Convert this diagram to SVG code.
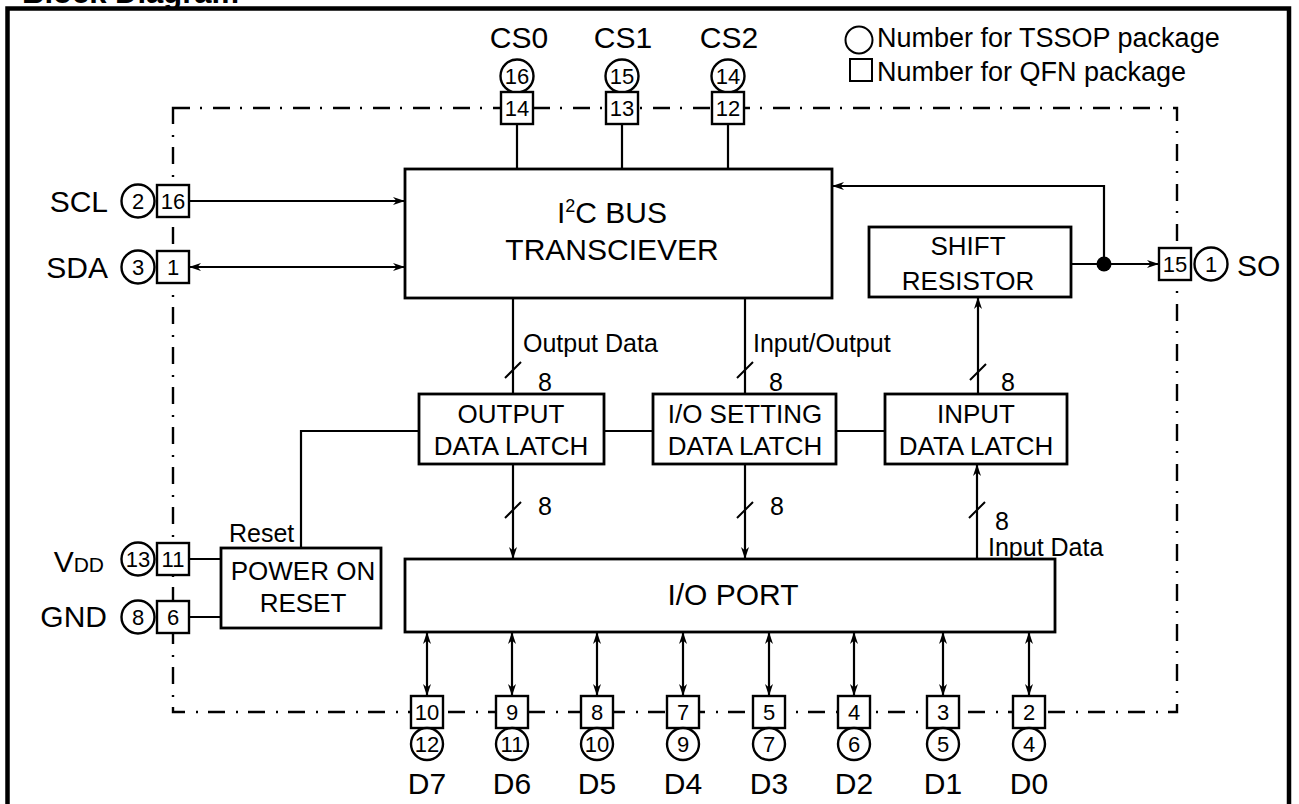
<svg xmlns="http://www.w3.org/2000/svg" width="1299" height="804" viewBox="0 0 1299 804">
<defs>
<marker id="ah" viewBox="0 0 12 8" refX="12" refY="4" markerWidth="12" markerHeight="8" markerUnits="userSpaceOnUse" orient="auto-start-reverse">
<path d="M0,0 L12,4 L0,8 L3.5,4 z" fill="#000"/>
</marker>
</defs>
<style>
text{font-family:"Liberation Sans",Arial,sans-serif;fill:#000}
.blk{fill:#fff;stroke:#000;stroke-width:2.8}
.pin{fill:#fff;stroke:#000;stroke-width:2.4}
.ln{fill:none;stroke:#000;stroke-width:2.2}
.a1{fill:none;stroke:#000;stroke-width:2.2;marker-end:url(#ah)}
.a2{fill:none;stroke:#000;stroke-width:2.2;marker-start:url(#ah);marker-end:url(#ah)}
.sl{fill:none;stroke:#000;stroke-width:2}
.bt{font-size:26px;text-anchor:middle}
.big{font-size:30px;text-anchor:middle}
.lab{font-size:30px}
.num{font-size:22px;text-anchor:middle}
.sm{font-size:25px}
</style>
<rect width="1299" height="804" fill="#fff"/>
<text x="22" y="3" style="font-size:31px;font-weight:bold">Block Diagram</text>
<rect x="7.5" y="8.5" width="1281.5" height="820" fill="none" stroke="#000" stroke-width="4.5"/>
<rect x="173" y="108" width="1004" height="604" fill="none" stroke="#000" stroke-width="2.4" stroke-dasharray="17 10 2 11"/>

<g id="legend">
<circle cx="859" cy="40" r="13.5" fill="none" stroke="#000" stroke-width="2"/>
<text x="877" y="47" style="font-size:27px">Number for TSSOP package</text>
<rect x="850" y="59" width="22" height="22" fill="none" stroke="#000" stroke-width="2"/>
<text x="877" y="81" style="font-size:27px">Number for QFN package</text>
</g>

<g id="connectors">
<path class="ln" d="M517,124V169M622,124V169M728,124V169"/>
<path class="a1" d="M189,201H405"/>
<path class="a2" d="M189,267H405"/>
<path class="a1" d="M1104,264V186H832"/>
<path class="a1" d="M1071,264H1159"/>
<circle cx="1104" cy="264" r="7.5" fill="#000"/>
<path class="ln" d="M513,298V394M745,298V394"/>
<path class="a1" d="M978,394V297"/>
<path class="ln" d="M604,431H653M836,431H885M419,431H301V548"/>
<path class="a1" d="M513,464V559"/>
<path class="a1" d="M745,464V559"/>
<path class="a1" d="M977,559V464"/>
<path class="ln" d="M189,559H221M189,617H221"/>
<path class="sl" d="M505,378L521,362M737,378L753,362M970,380L986,364M505,518L521,502M737,518L753,502M969,518L985,502"/>
<text x="523" y="352" class="sm">Output Data</text>
<text x="753" y="352" class="sm">Input/Output</text>
<text x="988" y="556" class="sm">Input Data</text>
<text x="229" y="542" class="sm">Reset</text>
<text x="538" y="391" class="sm">8</text>
<text x="769" y="391" class="sm">8</text>
<text x="1001" y="391" class="sm">8</text>
<text x="538" y="515" class="sm">8</text>
<text x="770" y="515" class="sm">8</text>
<text x="995" y="530" class="sm">8</text>
<path class="a2" d="M427,632V696"/>
<path class="a2" d="M512,632V696"/>
<path class="a2" d="M597,632V696"/>
<path class="a2" d="M683,632V696"/>
<path class="a2" d="M769,632V696"/>
<path class="a2" d="M854,632V696"/>
<path class="a2" d="M943,632V696"/>
<path class="a2" d="M1029,632V696"/>
</g>

<g id="i2c">
<rect class="blk" x="405" y="169" width="427" height="129"/>
<text x="612" y="223" class="big">I<tspan dy="-11" style="font-size:18px">2</tspan><tspan dy="11">C BUS</tspan></text>
<text x="612" y="260" class="big">TRANSCIEVER</text>
</g>
<g id="shift">
<rect class="blk" x="869" y="227" width="202" height="70"/>
<text x="968" y="255" class="bt">SHIFT</text>
<text x="968" y="290" class="bt">RESISTOR</text>
</g>
<g id="outlatch">
<rect class="blk" x="419" y="394" width="185" height="70"/>
<text x="511" y="423" class="bt">OUTPUT</text>
<text x="511" y="455" class="bt">DATA LATCH</text>
</g>
<g id="iolatch">
<rect class="blk" x="653" y="394" width="183" height="70"/>
<text x="745" y="423" class="bt">I/O SETTING</text>
<text x="745" y="455" class="bt">DATA LATCH</text>
</g>
<g id="inlatch">
<rect class="blk" x="885" y="394" width="182" height="70"/>
<text x="976" y="423" class="bt">INPUT</text>
<text x="976" y="455" class="bt">DATA LATCH</text>
</g>
<g id="por">
<rect class="blk" x="221" y="548" width="160" height="80"/>
<text x="303" y="580" class="bt">POWER ON</text>
<text x="303" y="612" class="bt">RESET</text>
</g>
<g id="ioport">
<rect class="blk" x="405" y="559" width="650" height="73"/>
<text x="733" y="605" class="big">I/O PORT</text>
</g>

<g id="pin-cs0">
<text x="519" y="48" class="big">CS0</text>
<circle class="pin" cx="517" cy="76" r="16.5"/><text x="517" y="84" class="num">16</text>
<rect class="pin" x="501" y="92" width="32" height="32"/><text x="517" y="116" class="num">14</text>
</g>
<g id="pin-cs1">
<text x="623" y="48" class="big">CS1</text>
<circle class="pin" cx="622" cy="76" r="16.5"/><text x="622" y="84" class="num">15</text>
<rect class="pin" x="606" y="92" width="32" height="32"/><text x="622" y="116" class="num">13</text>
</g>
<g id="pin-cs2">
<text x="729" y="48" class="big">CS2</text>
<circle class="pin" cx="728" cy="76" r="16.5"/><text x="728" y="84" class="num">14</text>
<rect class="pin" x="712" y="92" width="32" height="32"/><text x="728" y="116" class="num">12</text>
</g>
<g id="pin-scl">
<text x="108" y="212" class="lab" text-anchor="end">SCL</text>
<circle class="pin" cx="138" cy="201" r="16.5"/><text x="138" y="209" class="num">2</text>
<rect class="pin" x="157" y="185" width="32" height="32"/><text x="173" y="209" class="num">16</text>
</g>
<g id="pin-sda">
<text x="108" y="278" class="lab" text-anchor="end">SDA</text>
<circle class="pin" cx="138" cy="267" r="16.5"/><text x="138" y="275" class="num">3</text>
<rect class="pin" x="157" y="251" width="32" height="32"/><text x="173" y="275" class="num">1</text>
</g>
<g id="pin-vdd">
<text x="104" y="572" class="lab" text-anchor="end">V<tspan style="font-size:21px">DD</tspan></text>
<circle class="pin" cx="138" cy="559" r="16.5"/><text x="138" y="567" class="num">13</text>
<rect class="pin" x="157" y="543" width="32" height="32"/><text x="173" y="567" class="num">11</text>
</g>
<g id="pin-gnd">
<text x="107" y="627" class="lab" text-anchor="end">GND</text>
<circle class="pin" cx="138" cy="617" r="16.5"/><text x="138" y="625" class="num">8</text>
<rect class="pin" x="157" y="601" width="32" height="32"/><text x="173" y="625" class="num">6</text>
</g>
<g id="pin-so">
<rect class="pin" x="1159" y="248" width="32" height="32"/><text x="1175" y="272" class="num">15</text>
<circle class="pin" cx="1211" cy="264" r="16.5"/><text x="1211" y="272" class="num">1</text>
<text x="1237" y="276" class="lab">SO</text>
</g>
<g id="pin-d7"><rect class="pin" x="411" y="696" width="32" height="32"/><text x="427" y="720" class="num">10</text><circle class="pin" cx="427" cy="744" r="16"/><text x="427" y="752" class="num">12</text><text x="427" y="794" class="big">D7</text></g>
<g id="pin-d6"><rect class="pin" x="496" y="696" width="32" height="32"/><text x="512" y="720" class="num">9</text><circle class="pin" cx="512" cy="744" r="16"/><text x="512" y="752" class="num">11</text><text x="512" y="794" class="big">D6</text></g>
<g id="pin-d5"><rect class="pin" x="581" y="696" width="32" height="32"/><text x="597" y="720" class="num">8</text><circle class="pin" cx="597" cy="744" r="16"/><text x="597" y="752" class="num">10</text><text x="597" y="794" class="big">D5</text></g>
<g id="pin-d4"><rect class="pin" x="667" y="696" width="32" height="32"/><text x="683" y="720" class="num">7</text><circle class="pin" cx="683" cy="744" r="16"/><text x="683" y="752" class="num">9</text><text x="683" y="794" class="big">D4</text></g>
<g id="pin-d3"><rect class="pin" x="753" y="696" width="32" height="32"/><text x="769" y="720" class="num">5</text><circle class="pin" cx="769" cy="744" r="16"/><text x="769" y="752" class="num">7</text><text x="769" y="794" class="big">D3</text></g>
<g id="pin-d2"><rect class="pin" x="838" y="696" width="32" height="32"/><text x="854" y="720" class="num">4</text><circle class="pin" cx="854" cy="744" r="16"/><text x="854" y="752" class="num">6</text><text x="854" y="794" class="big">D2</text></g>
<g id="pin-d1"><rect class="pin" x="927" y="696" width="32" height="32"/><text x="943" y="720" class="num">3</text><circle class="pin" cx="943" cy="744" r="16"/><text x="943" y="752" class="num">5</text><text x="943" y="794" class="big">D1</text></g>
<g id="pin-d0"><rect class="pin" x="1013" y="696" width="32" height="32"/><text x="1029" y="720" class="num">2</text><circle class="pin" cx="1029" cy="744" r="16"/><text x="1029" y="752" class="num">4</text><text x="1029" y="794" class="big">D0</text></g>
</svg>
